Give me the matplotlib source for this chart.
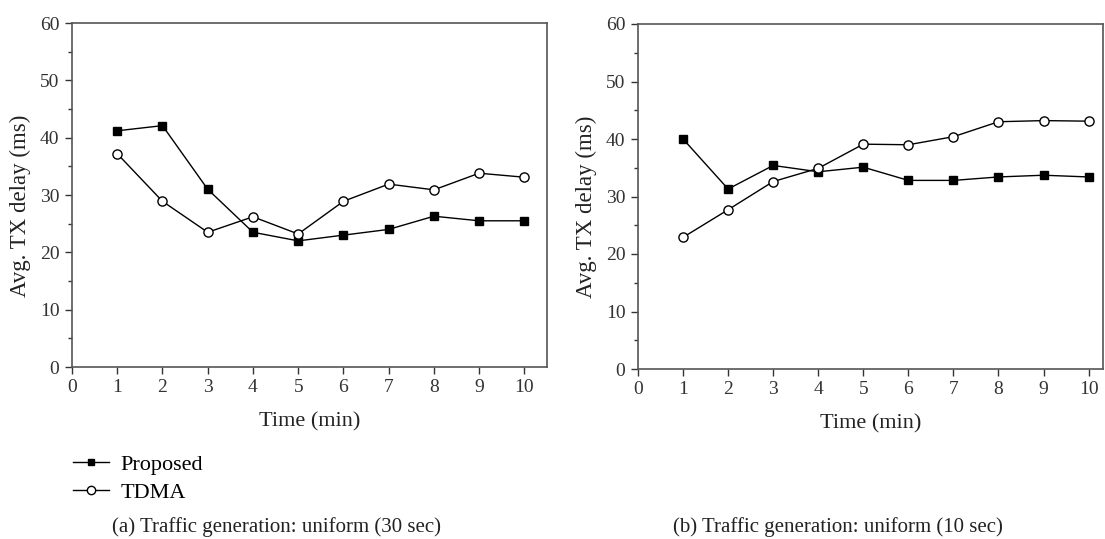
import matplotlib
matplotlib.use("Agg")
import matplotlib.pyplot as plt
from matplotlib.ticker import MultipleLocator
from matplotlib.lines import Line2D

plt.rcParams['font.family'] = ['Liberation Serif', 'DejaVu Serif']

time = [1, 2, 3, 4, 5, 6, 7, 8, 9, 10]
prop_a = [41.2, 42.1, 31.0, 23.5, 22.0, 23.0, 24.0, 26.3, 25.5, 25.5]
tdma_a = [37.2, 28.9, 23.5, 26.2, 23.2, 28.9, 31.9, 30.9, 33.8, 33.1]
prop_b = [40.0, 31.3, 35.4, 34.3, 35.1, 32.8, 32.8, 33.4, 33.7, 33.4]
tdma_b = [22.9, 27.7, 32.6, 34.9, 39.1, 39.0, 40.4, 43.0, 43.2, 43.1]
captions = ["(a) Traffic generation: uniform (30 sec)",
            "(b) Traffic generation: uniform (10 sec)"]

W, H = 1105, 539
fig = plt.figure(figsize=(W / 100, H / 100), dpi=100)

def ax_rect(x0, y0, x1, y1):
    return [x0 / W, 1 - y1 / H, (x1 - x0) / W, (y1 - y0) / H]

axA = fig.add_axes(ax_rect(72, 23, 547, 367))
axB = fig.add_axes(ax_rect(638, 24, 1103, 369))

for ax, p, t, xr, lx in [(axA, prop_a, tdma_a, 10.5, -0.086),
                         (axB, prop_b, tdma_b, 10.32, -0.088)]:
    ax.plot(time, p, color='black', lw=1.0, marker='s', ms=5.6,
            mfc='black', mec='black')
    ax.plot(time, t, color='black', lw=1.0, marker='o', ms=6.6,
            mfc='white', mec='black', mew=1.0)
    ax.set_xlim(0, xr)
    ax.set_ylim(0, 60)
    ax.set_xticks(range(0, 11))
    ax.yaxis.set_major_locator(MultipleLocator(10))
    ax.yaxis.set_minor_locator(MultipleLocator(5))
    ax.tick_params(axis='both', which='major', labelsize=14, length=5,
                   width=1, color='#333333', labelcolor='#333333', pad=4)
    ax.tick_params(axis='y', which='minor', length=3, width=1, color='#333333')
    for s in ax.spines.values():
        s.set_color('#555555')
        s.set_linewidth(1.2)
    ax.set_xlabel("Time (min)", fontsize=16, color='#222222', labelpad=11)
    ax.set_ylabel("Avg. TX delay (ms)", fontsize=16.5, color='#222222')
    ax.yaxis.set_label_coords(lx, 0.47)

handles = [Line2D([], [], color='black', lw=1.0, marker='s', ms=5, mfc='black'),
           Line2D([], [], color='black', lw=1.0, marker='o', ms=6, mfc='white')]
fig.legend(handles, ["Proposed", "TDMA"], loc='upper left',
           bbox_to_anchor=(53 / W, 1 - 434 / H), frameon=False, fontsize=16,
           handlelength=1.6, handletextpad=0.55, labelspacing=0.35)

fig.text(112 / W, 1 - 527 / H, captions[0], ha='left', va='center',
         fontsize=15, color='#222222')
fig.text(673 / W, 1 - 527 / H, captions[1], ha='left', va='center',
         fontsize=15, color='#222222')

fig.savefig("out.png", dpi=100)
